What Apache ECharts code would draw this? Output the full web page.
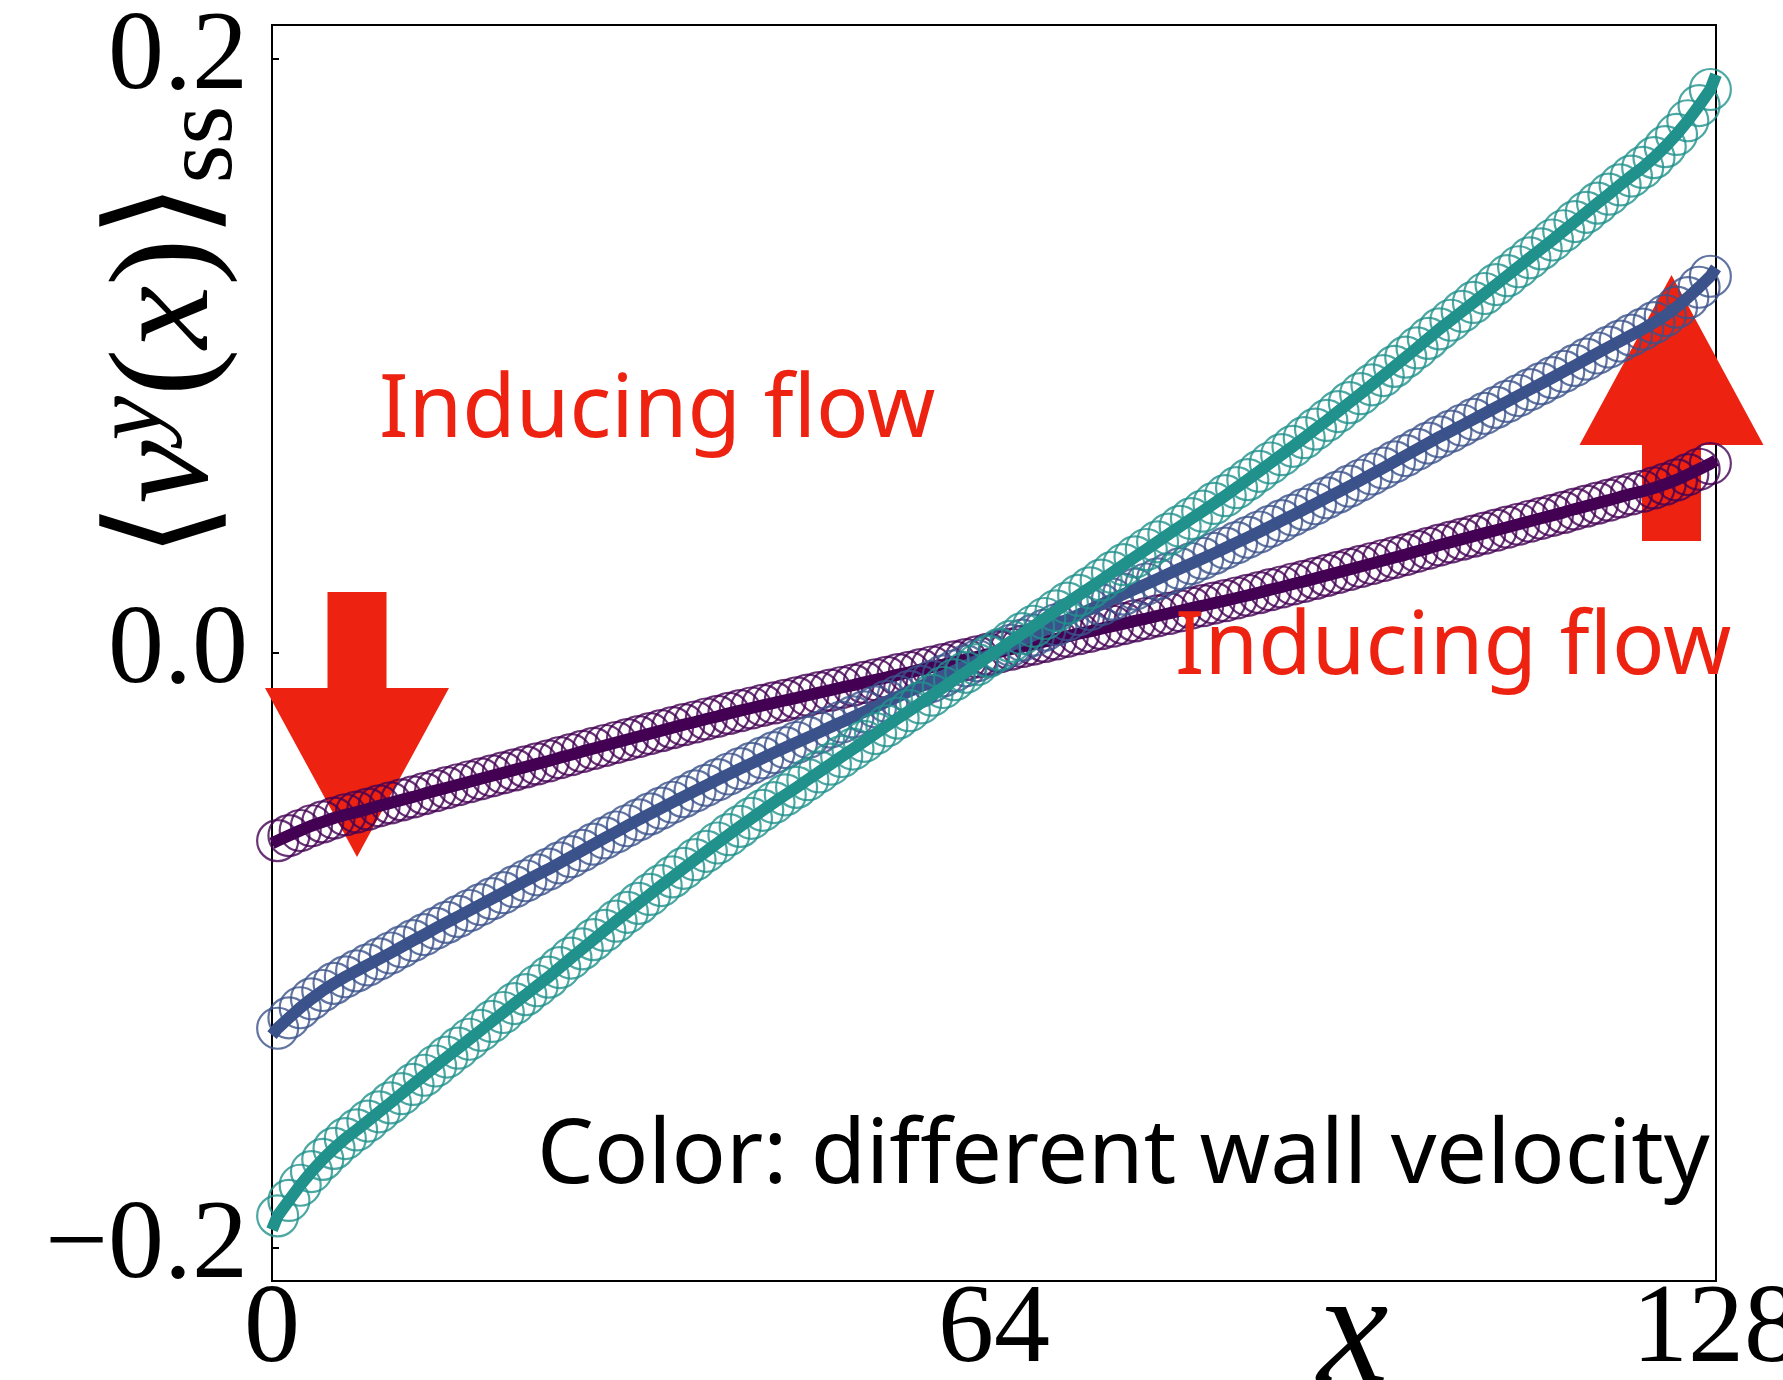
<!DOCTYPE html>
<html><head><meta charset="utf-8">
<script src="https://cdn.jsdelivr.net/npm/echarts@6/dist/echarts.min.js"></script>
<style>html,body{margin:0;padding:0;background:#fff}#c{width:1783px;height:1380px}</style>
</head><body><div id="c"></div>
<script>
// tick labels
const xTicks = [0, 64, 128];
const yTicks = [-0.2, 0.0, 0.2];
const colors = ['#440154', '#3b528b', '#21918c'];

// steady-state profiles <v^y(x)>_ss at lattice sites x = 0.5 ... 127.5
const purple = [
 -0.0631,-0.0614,-0.0597,-0.0581,
 -0.0568,-0.0555,-0.0544,-0.0535,-0.0525,-0.0514,-0.0504,-0.0494,-0.0484,-0.0473,
 -0.0463,-0.0453,-0.0443,-0.0433,-0.0423,-0.0413,-0.0403,-0.0393,-0.0383,-0.0373,
 -0.0363,-0.0352,-0.0342,-0.0331,-0.0321,-0.0311,-0.0301,-0.0291,-0.0281,-0.0271,
 -0.0261,-0.0251,-0.0241,-0.0232,-0.0222,-0.0213,-0.0203,-0.0194,-0.0185,-0.0176,
 -0.0168,-0.0159,-0.0151,-0.0142,-0.0133,-0.0125,-0.0116,-0.0108,-0.0099,-0.0090,
 -0.0082,-0.0073,-0.0065,-0.0056,-0.0047,-0.0039,-0.0030,-0.0022,-0.0013,-0.0004,
 0.0004,0.0013,0.0022,0.0030,0.0039,0.0047,0.0056,0.0065,0.0073,0.0082,
 0.0090,0.0099,0.0108,0.0116,0.0125,0.0133,0.0142,0.0151,0.0159,0.0168,
 0.0176,0.0185,0.0194,0.0203,0.0213,0.0222,0.0232,0.0241,0.0251,0.0261,
 0.0271,0.0281,0.0291,0.0301,0.0311,0.0321,0.0331,0.0342,0.0352,0.0363,
 0.0373,0.0383,0.0393,0.0403,0.0413,0.0423,0.0433,0.0443,0.0453,0.0463,
 0.0473,0.0484,0.0494,0.0504,0.0514,0.0525,0.0535,0.0544,0.0555,0.0568,
 0.0582,0.0600,0.0618,0.0637
];
const blue = [
 -0.1262,-0.1227,-0.1193,-0.1163,
 -0.1135,-0.1111,-0.1089,-0.1069,-0.1049,-0.1029,-0.1009,-0.0988,-0.0967,-0.0947,
 -0.0926,-0.0906,-0.0886,-0.0866,-0.0846,-0.0826,-0.0806,-0.0786,-0.0766,-0.0746,
 -0.0727,-0.0706,-0.0685,-0.0664,-0.0643,-0.0622,-0.0602,-0.0581,-0.0561,-0.0541,
 -0.0522,-0.0502,-0.0483,-0.0464,-0.0445,-0.0426,-0.0407,-0.0389,-0.0371,-0.0353,
 -0.0335,-0.0318,-0.0301,-0.0284,-0.0267,-0.0249,-0.0232,-0.0215,-0.0198,-0.0181,
 -0.0163,-0.0146,-0.0129,-0.0112,-0.0095,-0.0077,-0.0060,-0.0043,-0.0026,-0.0008,
 0.0008,0.0026,0.0043,0.0060,0.0077,0.0095,0.0112,0.0129,0.0146,0.0163,
 0.0181,0.0198,0.0215,0.0232,0.0249,0.0267,0.0284,0.0301,0.0318,0.0335,
 0.0353,0.0371,0.0389,0.0407,0.0426,0.0445,0.0464,0.0483,0.0502,0.0522,
 0.0541,0.0561,0.0581,0.0602,0.0622,0.0643,0.0664,0.0685,0.0706,0.0727,
 0.0746,0.0766,0.0786,0.0806,0.0826,0.0846,0.0866,0.0886,0.0906,0.0926,
 0.0947,0.0967,0.0988,0.1009,0.1029,0.1049,0.1069,0.1089,0.1111,0.1135,
 0.1163,0.1195,0.1230,0.1267
];
const teal = [
 -0.1893,-0.1841,-0.1790,-0.1744,
 -0.1703,-0.1666,-0.1633,-0.1604,-0.1574,-0.1543,-0.1513,-0.1482,-0.1451,-0.1420,
 -0.1389,-0.1359,-0.1329,-0.1299,-0.1269,-0.1239,-0.1209,-0.1179,-0.1149,-0.1119,
 -0.1090,-0.1058,-0.1026,-0.0995,-0.0964,-0.0933,-0.0902,-0.0872,-0.0842,-0.0812,
 -0.0782,-0.0753,-0.0724,-0.0695,-0.0667,-0.0639,-0.0611,-0.0583,-0.0556,-0.0529,
 -0.0503,-0.0477,-0.0452,-0.0426,-0.0400,-0.0374,-0.0348,-0.0323,-0.0297,-0.0271,
 -0.0245,-0.0219,-0.0194,-0.0168,-0.0142,-0.0116,-0.0090,-0.0065,-0.0039,-0.0012,
 0.0012,0.0039,0.0065,0.0090,0.0116,0.0142,0.0168,0.0194,0.0219,0.0245,
 0.0271,0.0297,0.0323,0.0348,0.0374,0.0400,0.0426,0.0452,0.0477,0.0503,
 0.0529,0.0556,0.0583,0.0611,0.0639,0.0667,0.0695,0.0724,0.0753,0.0782,
 0.0812,0.0842,0.0872,0.0902,0.0933,0.0964,0.0995,0.1026,0.1058,0.1090,
 0.1119,0.1149,0.1179,0.1209,0.1239,0.1269,0.1299,0.1329,0.1359,0.1389,
 0.1420,0.1451,0.1482,0.1513,0.1543,0.1574,0.1604,0.1633,0.1666,0.1703,
 0.1744,0.1790,0.1841,0.1895
];
// fitted curve values at the walls (x = 0 and x = 128)
const wallPurple = [-0.0640, 0.0648];
const wallBlue = [-0.1285, 0.1295];
const wallTeal = [-0.1940, 0.1945];

const profiles = [purple, blue, teal];
const walls = [wallPurple, wallBlue, wallTeal];

const series = [];
profiles.forEach((vals, k) => {
  const pts = vals.map((v, i) => [i + 0.5, v]);
  series.push({
    type: 'line', data: [[xTicks[0], walls[k][0]], ...pts, [xTicks[2], walls[k][1]]],
    showSymbol: false, symbol: 'none', smooth: false, silent: true, animation: false,
    lineStyle: { color: colors[k], width: 12, cap: 'butt', join: 'round' }, z: 2 + 2 * k
  });
  series.push({
    type: 'scatter', data: pts, symbol: 'circle', symbolSize: 41, silent: true, animation: false,
    itemStyle: { color: 'rgba(0,0,0,0)', borderColor: colors[k], borderWidth: 2.2 }, z: 3 + 2 * k
  });
});

const red = '#ee2210';
const serif = 'Liberation Serif';
const sans = 'Noto Sans';
const chart = echarts.init(document.getElementById('c'), null, { renderer: 'canvas' });
chart.setOption({
  animation: false,
  backgroundColor: '#fff',
  grid: { left: 272, top: 25, width: 1444, height: 1256, show: true, borderColor: '#000', borderWidth: 2,
    backgroundColor: 'rgba(0,0,0,0)', containLabel: false, outerBoundsMode: 'none' },
  xAxis: {
    type: 'value', min: 0, max: 128, interval: 64,
    axisLine: { show: false },
    axisTick: { show: true, inside: true, length: 7, lineStyle: { color: '#000', width: 2 } },
    splitLine: { show: false },
    axisLabel: { fontSize: 112, fontFamily: serif, color: '#000', margin: -5, formatter: v => String(v) }
  },
  yAxis: {
    type: 'value', min: -0.2112, max: 0.2112,
    axisLine: { show: false },
    axisTick: { show: true, inside: true, length: 7, customValues: yTicks, lineStyle: { color: '#000', width: 2 } },
    splitLine: { show: false },
    axisLabel: { fontSize: 112, fontFamily: serif, color: '#000', margin: 24, customValues: yTicks,
      formatter: v => (v < 0 ? '\u2212' : '') + Math.abs(v).toFixed(1) }
  },
  graphic: [
    { type: 'polygon', z: 0, silent: true,
      shape: { points: [[327.5,592],[386.5,592],[386.5,688],[449,688],[357,857],[265,688],[327.5,688]] },
      style: { fill: red } },
    { type: 'polygon', z: 0, silent: true,
      shape: { points: [[1642,541],[1701,541],[1701,445],[1763.5,445],[1671.5,275],[1579.5,445],[1642,445]] },
      style: { fill: red } },
    { type: 'text', z: 100, x: 379, y: 369, silent: true,
      style: { text: 'Inducing flow', fontSize: 87, fontFamily: sans, fill: red, align: 'left', verticalAlign: 'top' } },
    { type: 'text', z: 100, x: 1175, y: 606, silent: true,
      style: { text: 'Inducing flow', fontSize: 87, fontFamily: sans, fill: red, align: 'left', verticalAlign: 'top' } },
    { type: 'text', z: 100, x: 537, y: 1112, silent: true,
      style: { text: 'Color: different wall velocity', fontSize: 90, fontFamily: sans, fill: '#000', align: 'left', verticalAlign: 'top' } },
    { type: 'text', z: 100, x: 1353, y: 1419, silent: true,
      style: { text: 'x', fontSize: 160, fontFamily: serif, fontStyle: 'italic', fill: '#000', align: 'center', verticalAlign: 'bottom' } },
    { type: 'text', z: 100, x: 170, y: 332, rotation: Math.PI / 2, silent: true,
      style: {
        text: '{m|\u27E8}{i|v}{sup|y}{m|(}{i|x}{m|)\u27E9}{sub|ss}',
        align: 'center', verticalAlign: 'middle', fill: '#000',
        rich: {
          m: { fontSize: 142, fontFamily: serif, lineHeight: 170, verticalAlign: 'middle' },
          i: { fontSize: 142, fontFamily: serif, fontStyle: 'italic', lineHeight: 170, verticalAlign: 'middle' },
          sup: { fontSize: 100, fontFamily: serif, fontStyle: 'italic', lineHeight: 100, verticalAlign: 'top' },
          sub: { fontSize: 100, fontFamily: serif, lineHeight: 100, verticalAlign: 'bottom' }
        }
      } }
  ],
  series: series
});
</script></body></html>
